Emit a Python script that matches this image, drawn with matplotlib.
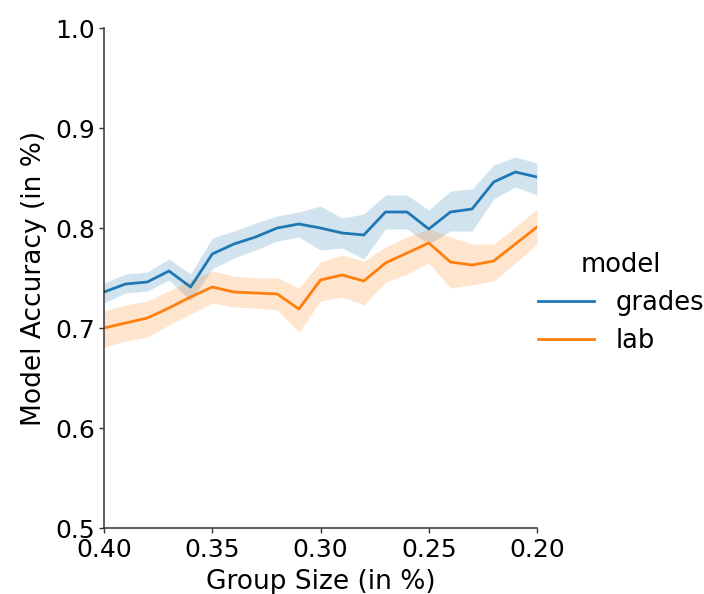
import matplotlib
matplotlib.use("Agg")
import matplotlib.pyplot as plt
import numpy as np

# group size (x axis is reversed: 0.40 -> 0.20)
group_size = [0.40, 0.39, 0.38, 0.37, 0.36, 0.35, 0.34, 0.33, 0.32, 0.31, 0.30,
              0.29, 0.28, 0.27, 0.26, 0.25, 0.24, 0.23, 0.22, 0.21, 0.20]

# mean accuracy + confidence band per model
grades_mean = [0.736, 0.744, 0.746, 0.757, 0.741, 0.774, 0.784, 0.791, 0.800, 0.804, 0.800,
               0.795, 0.793, 0.816, 0.816, 0.799, 0.816, 0.819, 0.846, 0.856, 0.851]
grades_low = [0.725, 0.735, 0.737, 0.748, 0.727, 0.759, 0.770, 0.778, 0.787, 0.791, 0.778,
              0.780, 0.769, 0.799, 0.799, 0.784, 0.797, 0.797, 0.829, 0.841, 0.833]
grades_high = [0.745, 0.754, 0.756, 0.769, 0.754, 0.790, 0.797, 0.805, 0.812, 0.816, 0.822,
               0.810, 0.814, 0.833, 0.833, 0.818, 0.837, 0.839, 0.863, 0.871, 0.865]

lab_mean = [0.700, 0.705, 0.710, 0.720, 0.731, 0.741, 0.736, 0.735, 0.734, 0.719, 0.748,
            0.753, 0.747, 0.765, 0.775, 0.785, 0.766, 0.763, 0.767, 0.784, 0.801]
lab_low = [0.681, 0.687, 0.691, 0.703, 0.714, 0.725, 0.721, 0.720, 0.718, 0.696, 0.727,
           0.731, 0.723, 0.746, 0.754, 0.765, 0.740, 0.743, 0.747, 0.765, 0.784]
lab_high = [0.717, 0.723, 0.727, 0.737, 0.748, 0.757, 0.752, 0.750, 0.750, 0.740, 0.766,
            0.773, 0.767, 0.781, 0.791, 0.799, 0.791, 0.784, 0.784, 0.801, 0.819]

models = ["grades", "lab"]
colors = ["#1f77b4", "#ff7f0e"]

plt.rcParams["font.family"] = "DejaVu Sans"

fig = plt.figure(figsize=(7.04, 5.94), dpi=100)
ax = fig.add_axes([104 / 704, 1 - 528 / 594, (537 - 104) / 704, (528 - 28) / 594])

series = [(grades_mean, grades_low, grades_high), (lab_mean, lab_low, lab_high)]
for name, color, (m, lo, hi) in zip(models, colors, series):
    ax.fill_between(group_size, lo, hi, color=color, alpha=0.2, linewidth=0)
    ax.plot(group_size, m, color=color, lw=2, label=name)

ax.set_xlim(0.40, 0.20)
ax.set_ylim(0.5, 1.0)
ax.set_xticks([0.40, 0.35, 0.30, 0.25, 0.20])
ax.set_xticklabels(["0.40", "0.35", "0.30", "0.25", "0.20"])
ax.set_yticks(np.arange(0.5, 1.01, 0.1))
ax.set_yticklabels(["0.5", "0.6", "0.7", "0.8", "0.9", "1.0"])
ax.tick_params(labelsize=18, length=3.5, width=1, pad=3, color="#333333")
ax.tick_params(axis="x", pad=4)
ax.set_xlabel("Group Size (in %)", fontsize=19, labelpad=5)
ax.set_ylabel("Model Accuracy (in %)", fontsize=19, labelpad=6)
for s in ["top", "right"]:
    ax.spines[s].set_visible(False)
for s in ["left", "bottom"]:
    ax.spines[s].set_linewidth(1.1)
    ax.spines[s].set_color("#333333")

leg = fig.legend(loc="center left", bbox_to_anchor=(0.749, 0.49), frameon=False,
                 borderaxespad=0, title="model", fontsize=18.5, title_fontsize=18.5,
                 handlelength=2.18, handletextpad=0.85, labelspacing=0.45)

fig.savefig("out.png", dpi=100)
